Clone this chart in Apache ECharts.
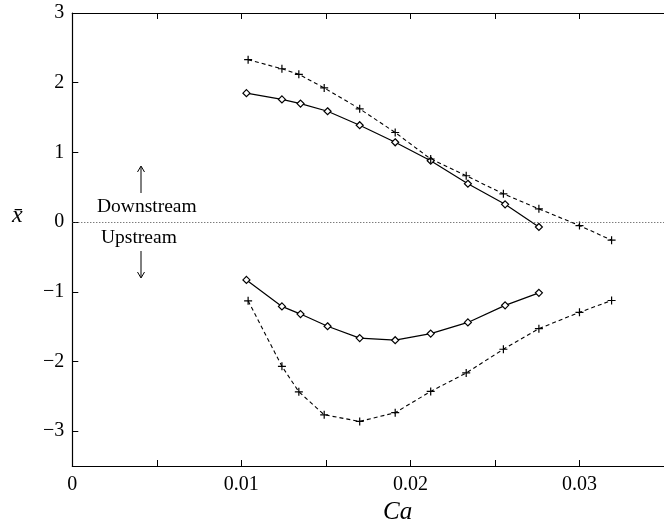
<!DOCTYPE html>
<html>
<head>
<meta charset="utf-8">
<script src="https://cdn.jsdelivr.net/npm/echarts@6/dist/echarts.min.js"></script>
<style>html,body{margin:0;padding:0;background:#fff}#c{width:664px;height:531px}</style>
</head>
<body>
<div id="c"></div>
<script>
// Data
const xDiamond = [0.0103, 0.0124, 0.0135, 0.0151, 0.0170, 0.0191, 0.0212, 0.0234, 0.0256, 0.0276];
const xPlus = [0.0104, 0.0124, 0.0134, 0.0149, 0.0170, 0.0191, 0.0212, 0.0233, 0.0255, 0.0276, 0.0300, 0.0319];
const upperSolid = [1.85, 1.76, 1.70, 1.59, 1.39, 1.145, 0.88, 0.55, 0.255, -0.07];
const lowerSolid = [-0.83, -1.21, -1.32, -1.495, -1.665, -1.695, -1.60, -1.44, -1.195, -1.015];
const upperDashed = [2.33, 2.20, 2.12, 1.925, 1.625, 1.285, 0.905, 0.665, 0.405, 0.19, -0.05, -0.26];
const lowerDashed = [-1.13, -2.07, -2.435, -2.765, -2.86, -2.735, -2.43, -2.165, -1.825, -1.53, -1.295, -1.125];
const yTicks = [-3, -2, -1, 0, 1, 2, 3];
const xLabelTicks = [0, 0.01, 0.02, 0.03];
const xMinorTicks = [0.005, 0.01, 0.015, 0.02, 0.025, 0.03];

const pair = (xs, ys) => xs.map((x, i) => [x, ys[i]]);
const serif = '"Liberation Serif", "Times New Roman", "DejaVu Serif", serif';
const plusPath = 'path://M0,-10 L0,10 M-10,0 L10,0';

function solid(data) {
  return {
    type: 'line', data: data, symbol: 'diamond', symbolSize: 7,
    lineStyle: { color: '#000', width: 1.2 },
    itemStyle: { color: '#fff', borderColor: '#000', borderWidth: 1.2 },
    silent: true, z: 3
  };
}
function dashed(data) {
  return {
    type: 'line', data: data, symbol: plusPath, symbolSize: 8,
    lineStyle: { color: '#000', width: 1.1, type: [4, 3] },
    itemStyle: { color: 'none', borderColor: '#000', borderWidth: 1.2 },
    silent: true, z: 3
  };
}

const chart = echarts.init(document.getElementById('c'));
chart.setOption({
  animation: false,
  backgroundColor: '#fff',
  grid: { left: 72.3, top: 13, right: -7, bottom: 65, containLabel: false },
  xAxis: [{
    type: 'value', position: 'bottom', min: 0, max: 0.035, interval: 0.005,
    axisLine: { show: true, onZero: false, lineStyle: { color: '#000', width: 1.2 } },
    axisTick: { show: true, inside: true, length: 6, customValues: xMinorTicks, lineStyle: { color: '#000' } },
    axisLabel: { customValues: xLabelTicks, color: '#000', fontFamily: serif, fontSize: 20, margin: 9 },
    splitLine: { show: false }
  }, {
    type: 'value', position: 'top', min: 0, max: 0.035, interval: 0.005,
    axisLine: { show: true, onZero: false, lineStyle: { color: '#000', width: 1.2 } },
    axisTick: { show: true, inside: true, length: 6, customValues: xMinorTicks, lineStyle: { color: '#000' } },
    axisLabel: { show: false }, splitLine: { show: false }
  }],
  yAxis: {
    type: 'value', min: -3.5, max: 3, interval: 0.5,
    axisLine: { show: true, onZero: false, lineStyle: { color: '#000', width: 1.2 } },
    axisTick: { show: true, inside: true, length: 6, customValues: yTicks, lineStyle: { color: '#000' } },
    axisLabel: { customValues: yTicks, color: '#000', fontFamily: serif, fontSize: 20, margin: 8,
      formatter: v => (v < 0 ? '\u2212' + Math.abs(v) : String(v)) },
    splitLine: { show: false }
  },
  series: [
    Object.assign(solid(pair(xDiamond, upperSolid)), {
      markLine: {
        silent: true, symbol: ['none', 'none'], label: { show: false },
        lineStyle: { color: '#444', width: 1, type: [1, 2] },
        data: [{ yAxis: 0 }]
      }
    }),
    solid(pair(xDiamond, lowerSolid)),
    dashed(pair(xPlus, upperDashed)),
    dashed(pair(xPlus, lowerDashed))
  ],
  graphic: [
    { type: 'text', left: 97, top: 197, style: { text: 'Downstream', font: '19.5px ' + serif, fill: '#000' } },
    { type: 'text', left: 101, top: 228, style: { text: 'Upstream', font: '19.5px ' + serif, fill: '#000' } },
    { type: 'line', shape: { x1: 141, y1: 167, x2: 141, y2: 193 }, style: { stroke: '#000', lineWidth: 1 } },
    { type: 'polyline', shape: { points: [[137.5, 172], [141, 166], [144.5, 172]] }, style: { stroke: '#000', lineWidth: 1, fill: null } },
    { type: 'line', shape: { x1: 141, y1: 251, x2: 141, y2: 277 }, style: { stroke: '#000', lineWidth: 1 } },
    { type: 'polyline', shape: { points: [[137.5, 272], [141, 278], [144.5, 272]] }, style: { stroke: '#000', lineWidth: 1, fill: null } },
    { type: 'text', left: 12, top: 204, style: { text: 'x\u0304', font: 'italic 24px ' + serif, fill: '#000' } },
    { type: 'text', left: 383, top: 500, style: { text: 'Ca', font: 'italic 25px ' + serif, fill: '#000' } }
  ]
});
</script>
</body>
</html>
